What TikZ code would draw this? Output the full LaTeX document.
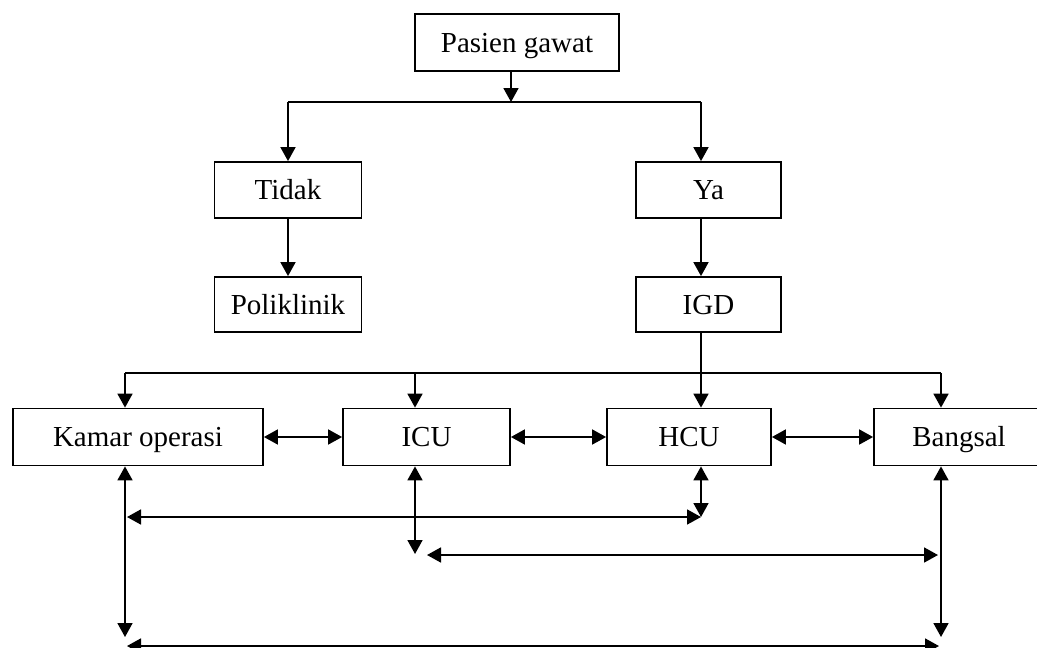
\documentclass[tikz,border=0pt]{standalone}
\usepackage{fontspec}
\setmainfont{Liberation Serif}
\usetikzlibrary{arrows.meta}
\begin{document}
\begin{tikzpicture}[x=1pt,y=-1pt,
  line width=1.8pt,
  box/.style={draw,rectangle,inner sep=0pt,text height=25pt,text depth=6pt,font=\fontsize{29}{34}\selectfont},
  >={Triangle[length=14pt,width=15pt]}]
\useasboundingbox (0,0) rectangle (1037,648);
% boxes
\node[box,minimum width=204pt,minimum height=57pt] (pg) at (517,42.5) {Pasien gawat};
\node[box,minimum width=147pt,minimum height=56pt] (tidak) at (288,190) {Tidak};
\node[box,minimum width=145pt,minimum height=56pt] (ya) at (708.5,190) {Ya};
\node[box,minimum width=147pt,minimum height=55pt] (poli) at (288,304.5) {Poliklinik};
\node[box,minimum width=145pt,minimum height=55pt] (igd) at (708.5,304.5) {IGD};
\node[box,minimum width=250pt,minimum height=57pt] (kamar) at (138,437) {Kamar operasi};
\node[box,minimum width=167pt,minimum height=57pt] (icu) at (426.5,437) {ICU};
\node[box,minimum width=164pt,minimum height=57pt] (hcu) at (689,437) {HCU};
\node[box,minimum width=170pt,minimum height=57pt] (bangsal) at (959,437) {Bangsal};
% coordinates
\coordinate (split) at (511,102);
\coordinate (tl) at (288,102);
\coordinate (tr) at (701,102);
\coordinate (b0) at (125,373);
\coordinate (b1) at (415,373);
\coordinate (b2) at (701,373);
\coordinate (b3) at (941,373);
\coordinate (k1) at (125,637);
\coordinate (bg1) at (941,637);
\coordinate (l3) at (127,646);
\coordinate (r3) at (939,646);
\coordinate (h1) at (701,517);
\coordinate (l1) at (127,517);
\coordinate (i1) at (415,554);
\coordinate (l2) at (427,555);
\coordinate (r2) at (938,555);
% top part
\draw[->] (pg.south -| split) -- (split);
\draw (tl) -- (tr);
\draw[->] (tl) -- (tidak.north -| tl);
\draw[->] (tr) -- (ya.north -| tr);
\draw[->] (tidak) -- (poli);
\draw[->] (ya.south -| tr) -- (igd.north -| tr);
% bus
\draw (igd.south -| b2) -- (b2);
\draw (b0) -- (b3);
\draw[->] (b0) -- (kamar.north -| b0);
\draw[->] (b1) -- (icu.north -| b1);
\draw[->] (b2) -- (hcu.north -| b2);
\draw[->] (b3) -- (bangsal.north -| b3);
% side links
\draw[<->] (kamar.east) -- (icu.west);
\draw[<->] (icu.east) -- (hcu.west);
\draw[<->] (hcu.east) -- (bangsal.west);
% lower links
\draw[<->] (kamar.south -| k1) -- (k1);
\draw[<->] (bangsal.south -| bg1) -- (bg1);
\draw[<->] (l3) -- (r3);
\draw[<->] (hcu.south -| h1) -- (h1);
\draw[<->] (l1) -- (h1);
\draw[<->] (icu.south -| i1) -- (i1);
\draw[<->] (l2) -- (r2);
\end{tikzpicture}
\end{document}
